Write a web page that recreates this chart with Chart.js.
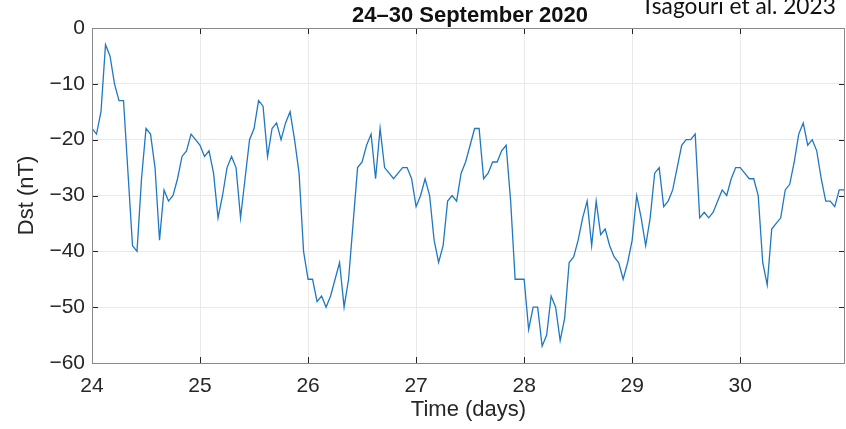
<!DOCTYPE html>
<html>
<head>
<meta charset="utf-8">
<script src="https://cdn.jsdelivr.net/npm/chart.js@4"></script>
<style>
  body { margin: 0; background: #fff; }
  #wrap { width: 846px; height: 429px; }
</style>
</head>
<body>
<div id="wrap"><canvas id="dstChart"></canvas></div>
<script>
// hourly Dst values, 24 Sep 00 UT .. 1 Oct 00 UT
const day24 = [-18, -19, -15, -3, -5, -10, -13, -13, -26, -39, -40, -27, -18, -19, -25, -38, -29, -31, -30, -27, -23, -22, -19, -20];
const day25 = [-21, -23, -22, -26, -34, -30, -25, -23, -25, -34, -27, -20, -18, -13, -14, -23, -18, -17, -20, -17, -15, -20, -26, -40];
const day26 = [-45, -45, -49, -48, -50, -48, -45, -42, -50, -45, -35, -25, -24, -21, -19, -27, -18, -25, -26, -27, -26, -25, -25, -27];
const day27 = [-32, -30, -27, -30, -38, -42, -39, -31, -30, -31, -26, -24, -21, -18, -18, -27, -26, -24, -24, -22, -21, -31, -45, -45];
const day28 = [-45, -54, -50, -50, -57, -55, -48, -50, -56, -52, -42, -41, -38, -34, -31, -39, -31, -37, -36, -39, -41, -42, -45, -42];
const day29 = [-38, -30, -34, -39, -34, -26, -25, -32, -31, -29, -25, -21, -20, -20, -19, -34, -33, -34, -33, -31, -29, -30, -27, -25];
const day30 = [-25, -26, -27, -27, -30, -42, -46, -36, -35, -34, -29, -28, -24, -19, -17, -21, -20, -22, -27, -31, -31, -32, -29, -29];
const day31 = [-30];

const startDay = 24;
const dst = [].concat(day24, day25, day26, day27, day28, day29, day30, day31);
const points = dst.map((v, i) => ({ x: startDay + i / 24, y: v }));

const xTicks = [24, 25, 26, 27, 28, 29, 30];
const yTicks = [0, -10, -20, -30, -40, -50, -60];

const titleText = '24\u201330 September 2020';
const noteText = 'Tsagouri et al. 2023';

const ink = '#262626';
const sans = '"Liberation Sans", Arial, sans-serif';

const boxPlugin = {
  id: 'box',
  afterDraw(chart) {
    const { ctx, chartArea: a, scales } = chart;
    ctx.save();
    ctx.strokeStyle = ink;
    ctx.lineWidth = 1;
    ctx.beginPath();
    xTicks.forEach(t => {
      const px = Math.round(scales.x.getPixelForValue(t)) + 0.5;
      ctx.moveTo(px, a.bottom); ctx.lineTo(px, a.bottom - 6);
      ctx.moveTo(px, a.top); ctx.lineTo(px, a.top + 6);
    });
    yTicks.forEach(t => {
      const py = Math.round(scales.y.getPixelForValue(t)) + 0.5;
      ctx.moveTo(a.left, py); ctx.lineTo(a.left + 6, py);
      ctx.moveTo(a.right, py); ctx.lineTo(a.right - 6, py);
    });
    ctx.stroke();
    ctx.strokeStyle = '#8a8a8a';
    ctx.strokeRect(Math.round(a.left) + 0.5, Math.round(a.top) + 0.5,
      Math.round(a.right - a.left) - 1, Math.round(a.bottom - a.top));

    ctx.fillStyle = '#111';
    ctx.font = 'bold 22px ' + sans;
    ctx.textAlign = 'center';
    ctx.textBaseline = 'alphabetic';
    ctx.fillText(titleText, 470, 22);

    ctx.font = '22px Lato, "Open Sans", sans-serif';
    const w = ctx.measureText(noteText).width;
    ctx.font = (22 * 195 / w).toFixed(1) + 'px Lato, "Open Sans", sans-serif';
    ctx.textAlign = 'left';
    ctx.fillText(noteText, 641, 14);
    ctx.restore();
  }
};

new Chart(document.getElementById('dstChart'), {
  type: 'line',
  data: {
    datasets: [{
      data: points,
      borderColor: '#1f78c1',
      borderWidth: 1.3,
      pointRadius: 0,
      tension: 0,
      fill: false,
      clip: 0
    }]
  },
  options: {
    responsive: true,
    maintainAspectRatio: false,
    animation: false,
    layout: { padding: { top: 28, right: 1, left: 0, bottom: 0 } },
    plugins: { legend: { display: false }, tooltip: { enabled: false } },
    scales: {
      x: {
        type: 'linear',
        min: 24,
        max: 30.97,
        afterBuildTicks: s => { s.ticks = xTicks.map(v => ({ value: v })); },
        afterFit: s => { s.height = 66; },
        grid: { color: '#e9e9e9', drawTicks: false },
        border: { display: false },
        ticks: { color: ink, font: { size: 21, family: sans }, padding: 11 },
        title: {
          display: true, text: 'Time (days)', color: ink,
          font: { size: 22, family: sans },
          padding: { top: 0, bottom: 6 }
        }
      },
      y: {
        min: -60,
        max: 0,
        afterBuildTicks: s => { s.ticks = yTicks.map(v => ({ value: v })); },
        afterFit: s => { s.width = 92; },
        grid: { color: '#e9e9e9', drawTicks: false },
        border: { display: false },
        ticks: {
          color: ink, font: { size: 21, family: sans }, padding: 7,
          callback: v => String(v).replace('-', '\u2212')
        },
        title: {
          display: true, text: 'Dst (nT)', color: ink,
          font: { size: 22, family: sans },
          padding: { top: 14, bottom: 0 }
        }
      }
    }
  },
  plugins: [boxPlugin]
});
</script>
</body>
</html>
